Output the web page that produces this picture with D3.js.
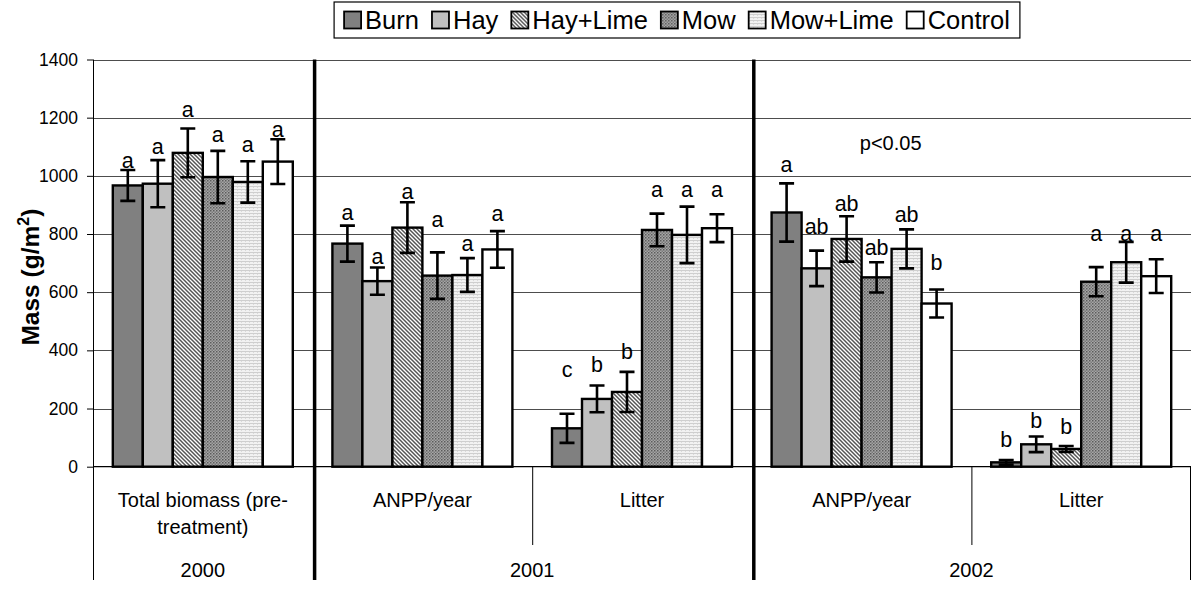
<!DOCTYPE html>
<html>
<head>
<meta charset="utf-8">
<script src="https://cdn.jsdelivr.net/npm/d3@7"></script>
<style>
  html, body { margin: 0; padding: 0; background: #fff; }
  svg { display: block; font-family: Arial, "Liberation Sans", sans-serif; }
</style>
</head>
<body>
<svg id="chart" width="1193" height="592"></svg>
<script>
// Treatments (series)
const treatments = ["Burn", "Hay", "Hay+Lime", "Mow", "Mow+Lime", "Control"];

// Measurement groups along the x axis
const groupLines = [["Total biomass (pre-", "treatment)"], ["ANPP/year"], ["Litter"], ["ANPP/year"], ["Litter"]];
const years = ["2000", "2001", "2002"];
const yearGroupCount = [1, 2, 2];

// Mean mass (g/m²) per treatment, one value per group
const burnMean     = [967, 767, 132, 874, 15];
const hayMean      = [973, 638, 233, 682, 77];
const hayLimeMean  = [1079, 822, 257, 783, 61];
const mowMean      = [996, 657, 814, 651, 636];
const mowLimeMean  = [979, 659, 797, 749, 703];
const controlMean  = [1049, 747, 820, 561, 655];

// Standard errors
const burnSE     = [53, 62, 50, 100, 8];
const haySE      = [81, 47, 46, 61, 27];
const hayLimeSE  = [84, 87, 69, 78, 10];
const mowSE      = [90, 80, 56, 52, 50];
const mowLimeSE  = [71, 58, 97, 67, 70];
const controlSE  = [77, 63, 48, 48, 58];

// Significance letters
const burnSig     = ["a", "a", "c", "a", "b"];
const haySig      = ["a", "a", "b", "ab", "b"];
const hayLimeSig  = ["a", "a", "b", "ab", "b"];
const mowSig      = ["a", "a", "a", "ab", "a"];
const mowLimeSig  = ["a", "a", "a", "ab", "a"];
const controlSig  = ["a", "a", "a", "b", "a"];

// Mass level (g/m²) at which each significance letter is centred
const burnSigAt     = [1046, 869, 327, 1034, 95];
const haySigAt      = [1095, 717, 353, 825, 158];
const hayLimeSigAt  = [1221, 941, 396, 906, 140];
const mowSigAt      = [1135, 843, 946, 756, 795];
const mowLimeSigAt  = [1101, 763, 946, 869, 795];
const controlSigAt  = [1152, 866, 946, 702, 795];

const yTicks = [0, 200, 400, 600, 800, 1000, 1200, 1400];
const noteText = "p<0.05";
const noteAt = { group: 3, value: 1113 };

const means = [burnMean, hayMean, hayLimeMean, mowMean, mowLimeMean, controlMean];
const ses = [burnSE, haySE, hayLimeSE, mowSE, mowLimeSE, controlSE];
const sigs = [burnSig, haySig, hayLimeSig, mowSig, mowLimeSig, controlSig];
const sigAts = [burnSigAt, haySigAt, hayLimeSigAt, mowSigAt, mowLimeSigAt, controlSigAt];

const svg = d3.select("#chart");
const margin = { left: 93, right: 1191, top: 59.5, bottom: 466.7 };

// ---- fill patterns ----
const defs = svg.append("defs");
function pattern(id, w, h, bg, draw) {
  const p = defs.append("pattern").attr("id", id).attr("patternUnits", "userSpaceOnUse")
    .attr("width", w).attr("height", h);
  p.append("rect").attr("width", w).attr("height", h).attr("fill", bg);
  draw(p);
}
// diagonal hatch
pattern("hatch", 4, 4, "#ffffff", p => {
  p.append("path").attr("d", "M0,0 L4,4 M-1,3 L1,5 M3,-1 L5,1").attr("stroke", "#555").attr("stroke-width", 1.5);
});
// dark dotted
pattern("darkdots", 3, 3, "#a6a6a6", p => {
  p.append("rect").attr("x", 0).attr("y", 0).attr("width", 1.5).attr("height", 1.5).attr("fill", "#5c5c5c");
  p.append("rect").attr("x", 1.5).attr("y", 1.5).attr("width", 1.5).attr("height", 1.5).attr("fill", "#7a7a7a");
});
// light dotted
pattern("lightdots", 4, 3, "#f2f2f2", p => {
  p.append("rect").attr("x", 0).attr("y", 0).attr("width", 4).attr("height", 1).attr("fill", "#cfcfcf");
  p.append("rect").attr("x", 1).attr("y", 1).attr("width", 1).attr("height", 1).attr("fill", "#dadada");
});
const fills = ["#808080", "#c0c0c0", "url(#hatch)", "url(#darkdots)", "url(#lightdots)", "#ffffff"];

// ---- scales ----
const groupIdx = d3.range(groupLines.length);
const x0 = d3.scaleBand().domain(groupIdx).range([margin.left, margin.right]).paddingInner(0).paddingOuter(0);
const x1 = d3.scaleBand().domain(treatments).range([0, x0.bandwidth()]).paddingInner(0).paddingOuter(0.66);
const y = d3.scaleLinear().domain([0, 1400]).range([margin.bottom, margin.top]);

// ---- gridlines ----
svg.append("g").selectAll("line").data(yTicks.filter(t => t > 0)).join("line")
  .attr("x1", margin.left).attr("x2", margin.right)
  .attr("y1", d => Math.round(y(d)) + 0.5).attr("y2", d => Math.round(y(d)) + 0.5)
  .attr("stroke", "#4d4d4d").attr("stroke-width", 1);

// ---- y axis ----
const yAxis = svg.append("g").attr("transform", `translate(${margin.left},0)`)
  .call(d3.axisLeft(y).tickValues(yTicks).tickSize(6).tickPadding(9).tickFormat(d3.format("d")));
yAxis.select(".domain").remove();
yAxis.selectAll(".tick line").attr("stroke", "#000");
yAxis.selectAll(".tick text").attr("font-size", 17.5).attr("fill", "#000")
  .attr("font-family", "Arial, 'Liberation Sans', sans-serif");

// y axis title
const yTitle = svg.append("text")
  .attr("transform", `translate(39,${(margin.top + margin.bottom) / 2 + 14}) rotate(-90)`)
  .attr("text-anchor", "middle").attr("font-size", 24.5).attr("font-weight", "bold");
yTitle.append("tspan").text("Mass (g/m");
yTitle.append("tspan").attr("font-size", 16).attr("dy", -10).text("2");
yTitle.append("tspan").attr("dy", 10).text(")");

// ---- bars ----
const rows = [];
treatments.forEach((t, ti) => groupIdx.forEach(g => rows.push({
  t, ti, g, v: means[ti][g], se: ses[ti][g], sig: sigs[ti][g], sigAt: sigAts[ti][g]
})));

const barG = svg.append("g");
barG.selectAll("rect").data(rows).join("rect")
  .attr("x", d => x0(d.g) + x1(d.t))
  .attr("y", d => y(d.v))
  .attr("width", x1.bandwidth())
  .attr("height", d => y(0) - y(d.v))
  .attr("fill", d => fills[d.ti])
  .attr("stroke", "#000").attr("stroke-width", 2.4);

// zero line
svg.append("line").attr("x1", margin.left).attr("x2", margin.right)
  .attr("y1", y(0)).attr("y2", y(0)).attr("stroke", "#000").attr("stroke-width", 1.2);

// ---- error bars ----
const errG = svg.append("g").attr("stroke", "#000").attr("stroke-width", 2.6).attr("fill", "none");
const cap = 7.5;
rows.forEach(d => {
  const cx = x0(d.g) + x1(d.t) + x1.bandwidth() / 2;
  const yt = y(d.v + d.se), yb = y(Math.max(0, d.v - d.se));
  errG.append("path").attr("d",
    `M${cx},${yt}L${cx},${yb}M${cx - cap},${yt}L${cx + cap},${yt}M${cx - cap},${yb}L${cx + cap},${yb}`);
});

// ---- significance letters ----
svg.append("g").selectAll("text").data(rows).join("text")
  .attr("x", d => x0(d.g) + x1(d.t) + x1.bandwidth() / 2)
  .attr("y", d => y(d.sigAt))
  .attr("dy", d => /[bd]/.test(d.sig) ? "0.36em" : "0.27em")
  .attr("text-anchor", "middle").attr("font-size", 21.5).text(d => d.sig);

// note
svg.append("text").attr("x", x0(noteAt.group) + 108).attr("y", y(noteAt.value)).attr("dy", "0.36em")
  .attr("font-size", 20).text(noteText);

// ---- category axis ----
const catG = svg.append("g").attr("font-size", 20).attr("text-anchor", "middle");
groupIdx.forEach(g => {
  const cx = x0(g) + x0.bandwidth() / 2;
  groupLines[g].forEach((ln, i) => {
    catG.append("text").attr("x", cx).attr("y", 507 + i * 27).text(ln);
  });
});
let start = 0;
years.forEach((yr, i) => {
  const a = x0(start), b = x0(start + yearGroupCount[i] - 1) + x0.bandwidth();
  catG.append("text").attr("x", (a + b) / 2).attr("y", 577).text(yr);
  start += yearGroupCount[i];
});

// dividers
const lineG = svg.append("g").attr("stroke", "#000");
// left axis line
lineG.append("line").attr("x1", margin.left + 0.5).attr("x2", margin.left + 0.5)
  .attr("y1", margin.top).attr("y2", 580).attr("stroke-width", 1);
// right end
lineG.append("line").attr("x1", margin.right - 0.5).attr("x2", margin.right - 0.5)
  .attr("y1", y(0)).attr("y2", 580).attr("stroke-width", 1);
// year boundaries (thick, full height) and inner group dividers
start = 0;
years.forEach((yr, i) => {
  if (i > 0) {
    const bx = x0(start) + 2;
    lineG.append("line").attr("x1", bx).attr("x2", bx).attr("y1", margin.top).attr("y2", 580)
      .attr("stroke-width", 3.5);
  }
  for (let k = 1; k < yearGroupCount[i]; k++) {
    const gx = x0(start + k) + 0.5;
    lineG.append("line").attr("x1", gx).attr("x2", gx).attr("y1", y(0)).attr("y2", 545).attr("stroke-width", 1);
  }
  start += yearGroupCount[i];
});

// ---- legend ----
const leg = svg.append("g");
const legBox = leg.append("rect").attr("fill", "#fff").attr("stroke", "#000").attr("stroke-width", 1.2);
let lx = 0;
const items = leg.append("g");
treatments.forEach((t, i) => {
  items.append("rect").attr("x", lx).attr("y", -8.5).attr("width", 17).attr("height", 17)
    .attr("fill", fills[i]).attr("stroke", "#000").attr("stroke-width", 1.8);
  const tx = items.append("text").attr("x", lx + 21).attr("y", 0).attr("dy", "0.35em")
    .attr("font-size", 25.5).text(t);
  lx += 21 + tx.node().getComputedTextLength() + 13;
});
const legW = lx - 13 + 20;
const legCX = 677, legCY = 20;
items.attr("transform", `translate(${legCX - legW / 2 + 10},${legCY})`);
legBox.attr("x", legCX - legW / 2).attr("y", 2).attr("width", legW).attr("height", 36);
</script>
</body>
</html>
